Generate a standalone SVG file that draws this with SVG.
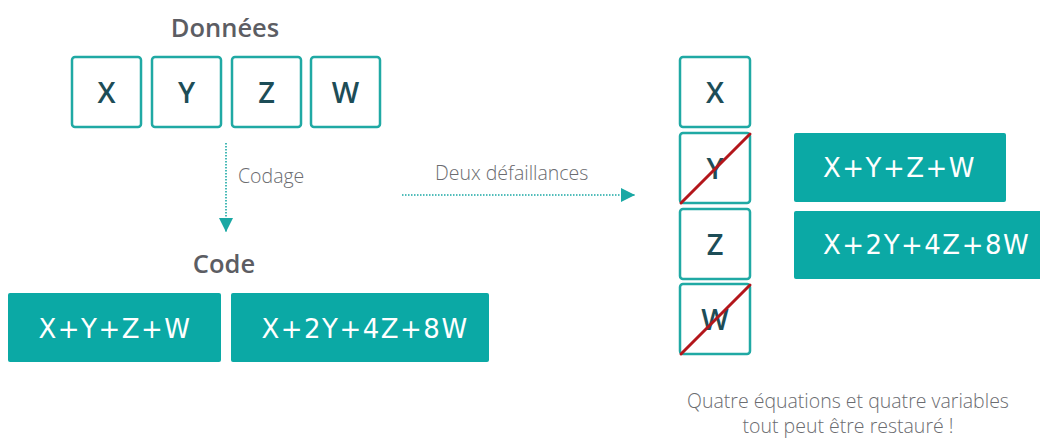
<svg xmlns="http://www.w3.org/2000/svg" width="1040" height="438" viewBox="0 0 1040 438">
  <defs>
    <style>
      .title { font-family: "Open Sans", "Liberation Sans", sans-serif; font-weight: 600; font-size: 25.5px; fill: #5c5d63; text-anchor: middle; }
      .light { font-family: "Open Sans", "Liberation Sans", sans-serif; font-weight: 300; font-size: 19.5px; fill: #6b6c70; }
      .var { fill: #ffffff; stroke: #20a9a4; stroke-width: 2.5; }
      .varTxt { font-family: "Open Sans", "Liberation Sans", sans-serif; font-weight: 600; font-size: 29px; fill: #1d4d57; text-anchor: middle; }
      .eq { fill: #0ba9a5; }
      .eqTxt { font-family: "DejaVu Sans", "Liberation Sans", sans-serif; font-size: 26px; fill: #ffffff; letter-spacing: 1.5px; }
      .flow { fill: none; stroke: #1aa8a4; stroke-width: 1.6; stroke-dasharray: 1.5 1.5; }
      .cross { stroke: #b3161b; stroke-width: 3; stroke-linecap: round; }
    </style>
    <marker id="tri" viewBox="0 0 10 10" refX="10" refY="5" markerWidth="14" markerHeight="14" markerUnits="userSpaceOnUse" orient="auto">
      <path d="M0,0 L10,5 L0,10 Z" fill="#1aa8a4"/>
    </marker>
  </defs>

  <!-- data block -->
  <text class="title" x="225" y="37">Données</text>
  <g id="data-x"><rect class="var" x="72" y="57" width="69" height="70" rx="3"/><text class="varTxt" x="106.5" y="103">X</text></g>
  <g id="data-y"><rect class="var" x="152" y="57" width="69" height="70" rx="3"/><text class="varTxt" x="186.5" y="103">Y</text></g>
  <g id="data-z"><rect class="var" x="232" y="57" width="69" height="70" rx="3"/><text class="varTxt" x="266.5" y="103">Z</text></g>
  <g id="data-w"><rect class="var" x="311" y="57" width="69" height="70" rx="3"/><text class="varTxt" x="345.5" y="103">W</text></g>

  <!-- code block -->
  <text class="title" x="224" y="273">Code</text>
  <g id="code-sum"><rect class="eq" x="8" y="293" width="213" height="69" rx="2"/><text class="eqTxt" x="115" y="338" text-anchor="middle">X+Y+Z+W</text></g>
  <g id="code-weighted"><rect class="eq" x="231" y="293" width="258" height="69" rx="2"/><text class="eqTxt" x="365" y="338" text-anchor="middle">X+2Y+4Z+8W</text></g>

  <!-- after failures -->
  <g id="rem-x"><rect class="var" x="680" y="57" width="70" height="70" rx="3"/><text class="varTxt" x="715" y="103">X</text></g>
  <g id="rem-y"><rect class="var" x="680" y="133" width="70" height="70" rx="3"/><text class="varTxt" x="715" y="179">Y</text><line class="cross" x1="681" y1="203" x2="750" y2="134"/></g>
  <g id="rem-z"><rect class="var" x="680" y="209" width="70" height="70" rx="3"/><text class="varTxt" x="715" y="255">Z</text></g>
  <g id="rem-w"><rect class="var" x="680" y="284" width="70" height="70" rx="3"/><text class="varTxt" x="715" y="330">W</text><line class="cross" x1="681" y1="354" x2="750" y2="285"/></g>
  <g id="rem-sum"><rect class="eq" x="794" y="133" width="212" height="69" rx="2"/><text class="eqTxt" x="823" y="177">X+Y+Z+W</text></g>
  <g id="rem-weighted"><rect class="eq" x="794" y="211" width="252" height="68" rx="2"/><text class="eqTxt" x="823" y="254">X+2Y+4Z+8W</text></g>

  <!-- connectors -->
  <g id="connectors">
    <line class="flow" x1="226" y1="143" x2="226" y2="232" marker-end="url(#tri)"/>
    <text class="light" x="238" y="183">Codage</text>
    <line class="flow" x1="402" y1="195" x2="635" y2="195" marker-end="url(#tri)"/>
    <text class="light" x="435" y="180">Deux défaillances</text>
  </g>

  <text class="light" x="848" y="408" text-anchor="middle">Quatre équations et quatre variables</text>
  <text class="light" x="848" y="433" text-anchor="middle">tout peut être restauré !</text>
</svg>
